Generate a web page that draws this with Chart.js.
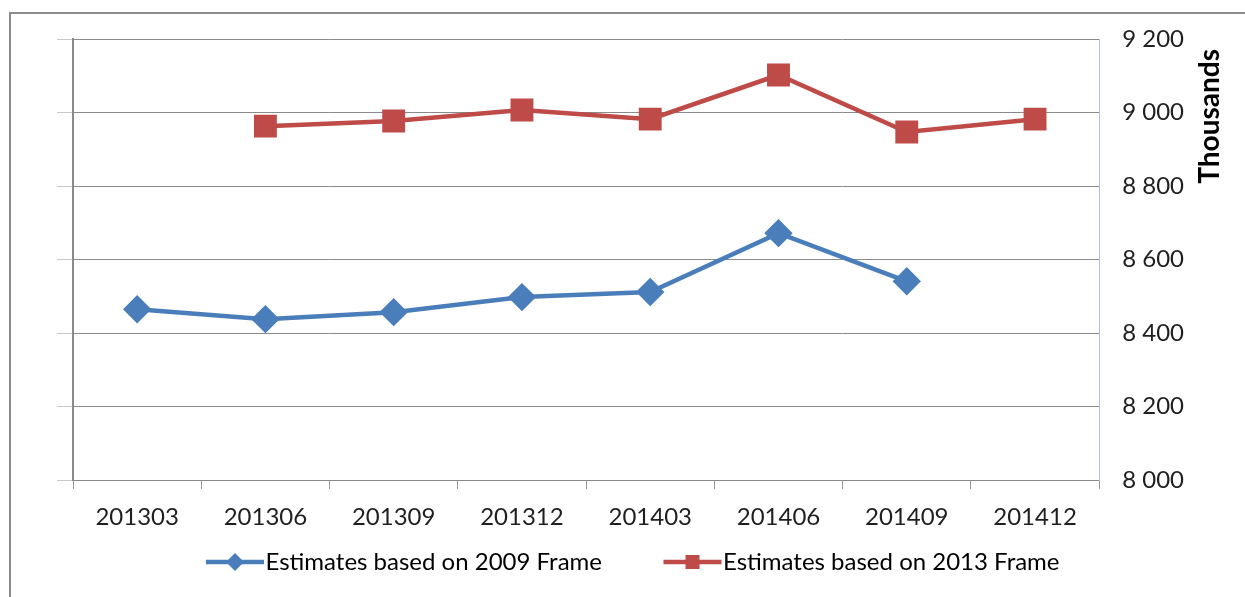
<!DOCTYPE html>
<html>
<head>
<meta charset="utf-8">
<script src="https://cdn.jsdelivr.net/npm/chart.js@4"></script>
<style>
  body { margin: 0; background: #fff; }
  #wrap { position: relative; width: 1245px; height: 597px; overflow: hidden; }
  #frame { position: absolute; left: 9px; top: 12px; width: 1300px; height: 700px; border: 2px solid #8c8c8c; }
  canvas { position: absolute; left: 0; top: 0; }
</style>
</head>
<body>
<div id="wrap">
  <div id="frame"></div>
  <canvas id="lineChart" width="1245" height="597"></canvas>
</div>
<script>
// data
const quarters = ["201303", "201306", "201309", "201312", "201403", "201406", "201409", "201412"]
const frame2009 = [8465, 8438, 8457, 8498, 8512, 8672, 8541, null]
const frame2013 = [null, 8963, 8977, 9007, 8982, 9102, 8947, 8982]
const yTicks = [8000, 8200, 8400, 8600, 8800, 9000, 9200]
const yTitle = "Thousands"

const BLUE = "#4a7ebb"
const RED = "#be4b48"
const FONT = "Lato"
const TEXT = "#1f1f1f"

// legend swatch: line with marker, drawn on a small canvas.
// the canvas is wider than the legend box so the line sits next to the text
function swatch(color, style) {
  const c = document.createElement("canvas")
  c.width = 128
  c.height = 20
  const ctx = c.getContext("2d")
  ctx.strokeStyle = color
  ctx.lineWidth = 4.5
  ctx.beginPath()
  ctx.moveTo(69, 10)
  ctx.lineTo(127, 10)
  ctx.stroke()
  ctx.fillStyle = color
  if (style == "diamond") {
    ctx.beginPath()
    ctx.moveTo(98, 1); ctx.lineTo(107, 10); ctx.lineTo(98, 19); ctx.lineTo(89, 10)
    ctx.closePath()
    ctx.fill()
  } else {
    ctx.fillRect(91, 3, 14, 14)
  }
  return c
}

// right axis title, rotated to read bottom-to-top
const axisTitle = {
  id: "axisTitle",
  afterDraw(chart) {
    const ctx = chart.ctx
    const area = chart.chartArea
    ctx.save()
    ctx.translate(area.right + 111, area.top + 10)
    ctx.rotate(-Math.PI / 2)
    ctx.font = "bold 28px " + FONT
    ctx.fillStyle = "#000"
    ctx.textAlign = "right"
    ctx.textBaseline = "middle"
    ctx.fillText(yTitle, 0, 0)
    ctx.restore()
  }
}

const data = {
  labels: quarters,
  datasets: [{
    label: "Estimates based on 2009 Frame",
    data: frame2009,
    borderColor: BLUE,
    backgroundColor: BLUE,
    borderWidth: 4.5,
    pointStyle: "rectRot",
    pointRadius: 11,
    pointHoverRadius: 11,
    legendSwatch: swatch(BLUE, "diamond")
  }, {
    label: "Estimates based on 2013 Frame",
    data: frame2013,
    borderColor: RED,
    backgroundColor: RED,
    borderWidth: 4.5,
    pointStyle: "rect",
    pointRadius: 13,
    pointHoverRadius: 13,
    legendSwatch: swatch(RED, "square")
  }]
}

const config = {
  type: "line",
  data: data,
  plugins: [axisTitle],
  options: {
    responsive: false,
    animation: false,
    layout: { padding: { left: 1, right: 38, top: 39, bottom: 13 } },
    scales: {
      x: {
        offset: true,
        grid: { offset: true, drawOnChartArea: false, color: "#9a9a9a", tickLength: 9 },
        border: { display: false },
        ticks: { color: TEXT, font: { family: FONT, size: 24 }, padding: 14 }
      },
      y: {
        position: "right",
        min: 8000,
        max: 9200,
        afterBuildTicks: axis => { axis.ticks = yTicks.map(v => ({ value: v })) },
        grid: { color: "#8a8a8a", lineWidth: 1, drawTicks: false },
        border: { color: "#a9c3df", width: 1 },
        ticks: {
          color: TEXT,
          padding: 23,
          font: { family: FONT, size: 24 },
          callback: v => v.toLocaleString("en-US").replace(",", " ")
        }
      },
      yLeft: {
        position: "left",
        min: 8000,
        max: 9200,
        afterBuildTicks: axis => { axis.ticks = yTicks.map(v => ({ value: v })) },
        // widen the blank left axis so the legend centres like the original
        afterFit: axis => { axis.width += 56 },
        grid: { drawOnChartArea: false, color: "#c8c8c8", tickLength: 16 },
        border: { color: "#8a8a8a", width: 2 },
        ticks: { display: false }
      }
    },
    plugins: {
      tooltip: { enabled: false },
      legend: {
        position: "bottom",
        labels: {
          usePointStyle: true,
          pointStyleWidth: 105,
          padding: 4,
          color: TEXT,
          font: { family: FONT, size: 24 },
          generateLabels: chart => chart.data.datasets.map((ds, i) => ({
            text: ds.label,
            pointStyle: ds.legendSwatch,
            fillStyle: ds.borderColor,
            strokeStyle: ds.borderColor,
            lineWidth: 0,
            datasetIndex: i,
            hidden: false
          }))
        }
      }
    }
  }
}

const lineChart = new Chart(document.querySelector("#lineChart"), config)
</script>
</body>
</html>
